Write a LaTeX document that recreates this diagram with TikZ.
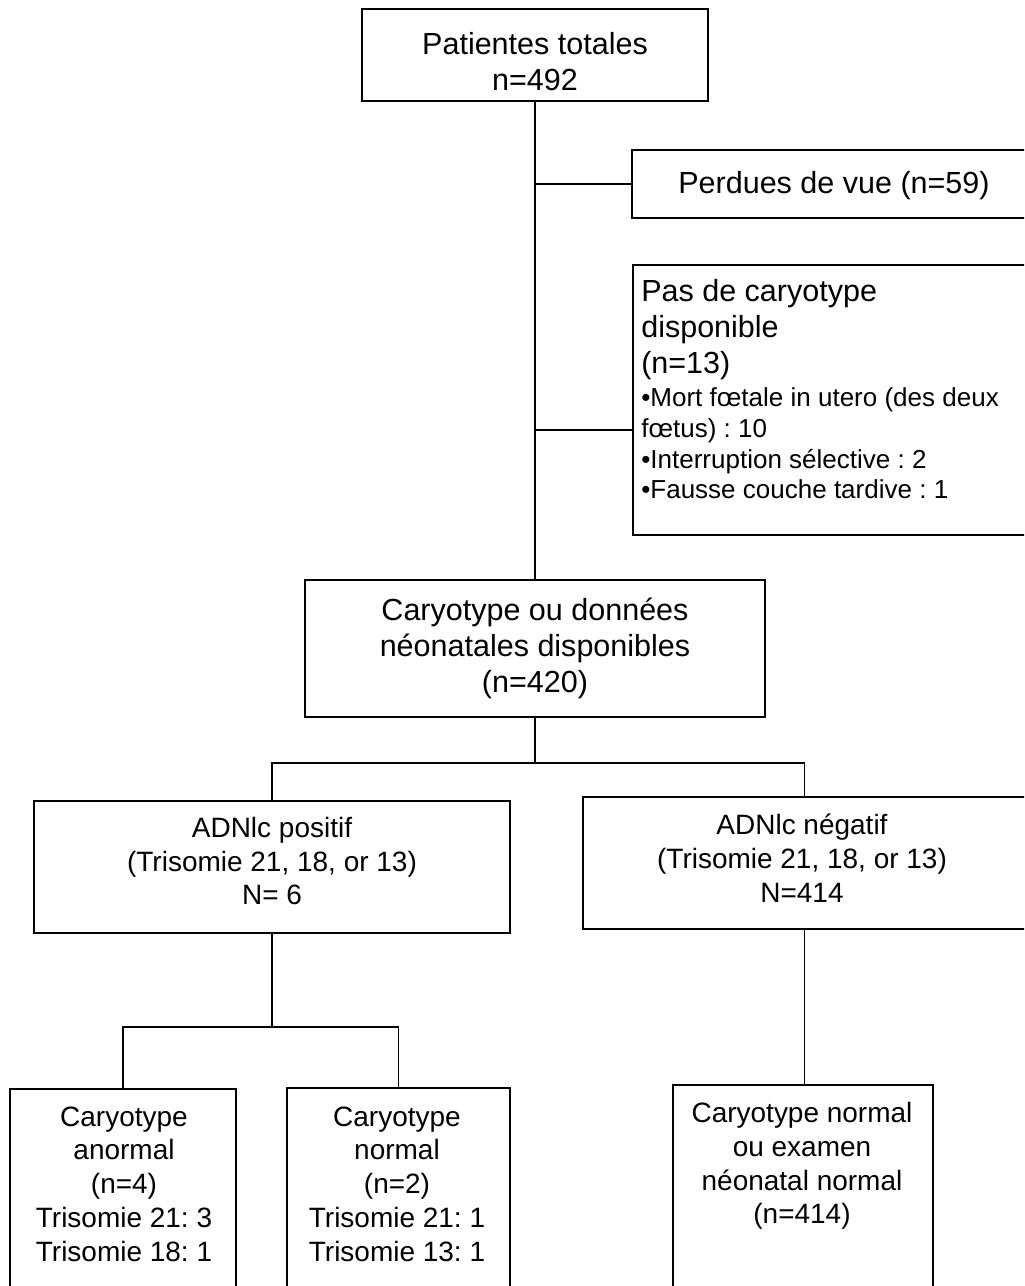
\documentclass[tikz,border=0pt]{standalone}
\usepackage{fontspec}
\setmainfont{Liberation Sans}
\frenchspacing
\usetikzlibrary{positioning, fit}

\begin{document}
\begin{tikzpicture}
        [
            x=0.025cm, y=-0.025cm,
            box/.style = {draw, black, line width=1.3pt, inner sep=0pt},
            bigtext/.style = {align=center, inner sep=0pt, font=\fontsize{21.7}{25.6}\selectfont},
            midtext/.style = {align=center, inner sep=0pt, font=\fontsize{19.9}{24}\selectfont},
            smalltext/.style = {align=left, inner sep=0pt, font=\fontsize{18.5}{22}\selectfont},
            link/.style = {draw, black, line width=1pt}
        ]%
        \useasboundingbox (0,0) rectangle (1024,1286);
        \clip (0,0) rectangle (1024,1286);
        % boxes
        \node[box, fit={(362,9) (708,101)}] (total) {};
        \node[box, fit={(632,150) (1040,218)}] (lost) {};
        \node[box, fit={(633,265) (1040,535)}] (nokaryo) {};
        \node[box, fit={(305,580) (765,717)}] (mid) {};
        \node[box, fit={(34,801) (510,933)}] (pos) {};
        \node[box, fit={(583,797) (1026,929)}] (neg) {};
        \node[box, fit={(10,1089) (236,1300)}] (badk) {};
        \node[box, fit={(287,1088) (510,1300)}] (goodk) {};
        \node[box, fit={(673,1085) (933,1300)}] (normk) {};
        % texts
        \node[bigtext] (totaltxt) at (535,62) {Patientes totales\\n=492};
        \node[bigtext] (losttxt) at (834,186) {Perdues de vue (n=59)};
        \node[bigtext, align=left, anchor=north west] (nokaryotxt) at (641,279) {Pas de caryotype\\disponible\\(n=13)};
        \node[smalltext, anchor=north west] (nokaryodet) at (641,387) {•Mort fœtale in utero (des deux\\fœtus) : 10\\•Interruption sélective : 2\\•Fausse couche tardive : 1};
        \node[bigtext] (midtxt) at (535,648) {Caryotype ou données\\néonatales disponibles\\(n=420)};
        \node[midtext] (postxt) at (272,861) {ADNlc positif\\(Trisomie 21, 18, or 13)\\N= 6};
        \node[midtext] (negtxt) at (802,858) {ADNlc négatif\\(Trisomie 21, 18, or 13)\\N=414};
        \node[midtext] (badktxt) at (124,1184) {Caryotype\\anormal\\(n=4)\\Trisomie 21: 3\\Trisomie 18: 1};
        \node[midtext] (goodktxt) at (397,1184) {Caryotype\\normal\\(n=2)\\Trisomie 21: 1\\Trisomie 13: 1};
        \node[midtext] (normktxt) at (802,1166) {Caryotype normal\\ou examen\\néonatal normal\\(n=414)};
        % connectors
        \coordinate (nkjoin) at (535,430);
        \draw[link] (total) -- (mid);
        \draw[link] (lost.west) -- (lost.west -| total.south);
        \draw[link] (nkjoin) -- (nkjoin -| nokaryo.west);
        \draw[link] (mid.south) -- ++(0,45) coordinate (adnsplit);
        \draw[link] (pos.north) |- (adnsplit) -| (neg.north);
        \draw[link] (pos.south) -- ++(0,93) coordinate (possplit);
        \draw[link] (badk.north) |- (possplit) -| (goodk.north);
        \draw[link] (neg.south) -- (neg.south |- normk.north);
\end{tikzpicture}
\end{document}
